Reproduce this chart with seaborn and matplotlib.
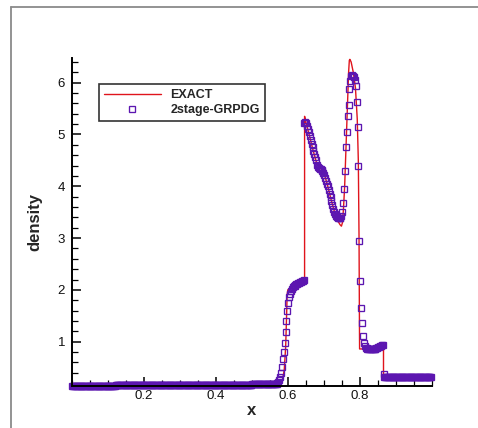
import numpy as np
import matplotlib
matplotlib.use("Agg")
import matplotlib.pyplot as plt
import seaborn as sns
from matplotlib.lines import Line2D
from matplotlib.ticker import MultipleLocator, FixedLocator

# ---------------- data ----------------
exact_x = [0.0, 0.05, 0.1, 0.25, 0.45, 0.56, 0.575, 0.585, 0.59, 0.594, 0.597, 0.598,
           0.60, 0.615, 0.632, 0.6466, 0.6466, 0.65, 0.66, 0.67, 0.68, 0.69, 0.70, 0.71,
           0.72, 0.73, 0.74, 0.745, 0.749, 0.752, 0.755, 0.758, 0.761, 0.764, 0.767,
           0.769, 0.771, 0.7725, 0.776, 0.782, 0.788, 0.793, 0.796, 0.798, 0.799, 0.7995,
           0.81, 0.82, 0.83, 0.84, 0.85, 0.86, 0.866, 0.866, 0.9, 1.0]
exact_rho = [0.145, 0.155, 0.165, 0.175, 0.18, 0.185, 0.2, 0.26, 0.45, 0.9, 1.6, 1.9,
             2.0, 2.08, 2.15, 2.22, 5.35, 5.24, 4.98, 4.70, 4.45, 4.35, 4.27, 4.03,
             3.75, 3.5, 3.32, 3.26, 3.23, 3.3, 3.6, 4.0, 4.6, 5.2, 5.8,
             6.2, 6.43, 6.45, 6.40, 6.2, 5.9, 5.3, 4.5, 3.0, 1.5, 0.86,
             0.86, 0.855, 0.85, 0.86, 0.88, 0.91, 0.93, 0.31, 0.31, 0.31]

n_cells = 400
rho_left = ([0.142] * 8 + [0.148] * 16 + [0.154] * 24 + [0.159] * 32 + [0.164] * 40 +
            [0.168] * 40 + [0.172] * 40 + [0.176] * 24 + [0.18] * 4)
rho_rise = [0.21, 0.22, 0.26, 0.32, 0.40, 0.52, 0.66, 0.80, 0.98, 1.18, 1.40, 1.60, 1.75, 1.86,
            1.93, 1.98, 2.02, 2.05, 2.07, 2.08, 2.10, 2.11, 2.12, 2.13, 2.14, 2.15, 2.16, 2.17,
            2.18, 2.20]
rho_shell = [5.23, 5.25, 5.22, 5.17, 5.11, 5.04, 4.97, 4.90, 4.82, 4.75, 4.68, 4.62, 4.57, 4.50,
             4.42, 4.37, 4.35, 4.34, 4.33, 4.31, 4.29, 4.26, 4.21, 4.15, 4.10, 4.05, 4.00, 3.93,
             3.86, 3.79, 3.72, 3.64, 3.56, 3.50, 3.46, 3.43, 3.41, 3.39, 3.38, 3.38, 3.39, 3.42,
             3.50, 3.68, 3.95, 4.30, 4.75, 5.05, 5.35, 5.57, 5.88, 6.03, 6.12, 6.14, 6.13, 6.10,
             6.05, 5.93, 5.63, 5.15, 4.40, 2.95, 2.17, 1.65, 1.37, 1.11, 0.97, 0.91, 0.88]
rho_mid = [0.87, 0.86, 0.86, 0.855, 0.85, 0.85, 0.85, 0.85, 0.855, 0.86, 0.865, 0.87, 0.88,
           0.89, 0.90, 0.91, 0.92, 0.93, 0.935]
rho_right = [0.38] + [0.32] * 53
num_rho = rho_left + rho_rise + rho_shell + rho_mid + rho_right
num_x = (np.arange(n_cells) + 0.5) / n_cells
assert len(num_rho) == n_cells and len(exact_x) == len(exact_rho)

x_major = [0.2, 0.4, 0.6, 0.8]
y_major = [1, 2, 3, 4, 5, 6]
labels = ["EXACT", "2stage-GRPDG"]

RED = "#e0141c"
PURPLE = "#5c16b0"

# ---------------- style ----------------
sns.set_style("ticks")
plt.rcParams["font.family"] = ["Liberation Sans", "DejaVu Sans"]

W, H = 478, 428
fig = plt.figure(figsize=(W / 100, H / 100), dpi=100)
ax = fig.add_axes([72 / W, 1 - 386 / H, (431.7 - 72) / W, (386 - 58.3) / H])

sns.lineplot(x=exact_x, y=exact_rho, ax=ax, color=RED, linewidth=1.0,
             sort=False, estimator=None)
sns.lineplot(x=num_x, y=num_rho, ax=ax, estimator=None, sort=False,
             linestyle="none", marker="s", markersize=3.9,
             markerfacecolor="none", markeredgecolor=PURPLE, markeredgewidth=0.95,
             color=PURPLE, clip_on=False)

ax.set_xlim(0, 1.0)
ax.set_ylim(0.145, 6.47)
ax.xaxis.set_major_locator(FixedLocator(x_major))
ax.yaxis.set_major_locator(FixedLocator(y_major))
ax.xaxis.set_minor_locator(MultipleLocator(0.05))
ax.yaxis.set_minor_locator(MultipleLocator(0.2))
ax.set_xticklabels([f"{v:g}" for v in x_major])
ax.set_yticklabels([f"{v:g}" for v in y_major])

for s in ["top", "right"]:
    ax.spines[s].set_visible(False)
for s in ["left", "bottom"]:
    ax.spines[s].set_linewidth(1.4)
    ax.spines[s].set_color("black")

ax.tick_params(which="major", direction="in", length=6.3, width=1.1, color="black",
               labelsize=9.5, labelcolor="#111111", pad=3)
ax.tick_params(which="minor", direction="in", length=4, width=0.9, color="black")
ax.tick_params(axis="y", pad=5)

ax.set_xlabel("x", fontsize=12, fontweight="bold")
ax.set_ylabel("density", fontsize=12, fontweight="bold")
ax.xaxis.set_label_coords(0.5, -0.052)
ax.yaxis.set_label_coords(-0.082, 0.5)

handles = [Line2D([], [], color=RED, linewidth=1.0),
           Line2D([], [], linestyle="none", marker="s", markersize=3.9,
                  markerfacecolor="none", markeredgecolor=PURPLE, markeredgewidth=0.95)]
leg = ax.legend(handles, labels, loc="upper left",
                bbox_to_anchor=(99.3 / W, 1 - 84.3 / H), bbox_transform=fig.transFigure,
                borderaxespad=0, frameon=True, fancybox=False, framealpha=1,
                edgecolor="#333333", handlelength=4.5, handletextpad=0.8,
                borderpad=0.4, labelspacing=0.25, numpoints=1,
                prop={"family": ["Liberation Sans", "DejaVu Sans"], "weight": "bold", "size": 9})
leg.get_frame().set_linewidth(1.2)

# outer frame lines
fig.add_artist(Line2D([10.5 / W, 10.5 / W], [0, 1 - 6.7 / H], transform=fig.transFigure,
                      color="#8a8a8a", linewidth=1.3))
fig.add_artist(Line2D([10.5 / W, 1], [1 - 6.7 / H, 1 - 6.7 / H], transform=fig.transFigure,
                      color="#8a8a8a", linewidth=1.3))

fig.savefig("out.png", dpi=100)
